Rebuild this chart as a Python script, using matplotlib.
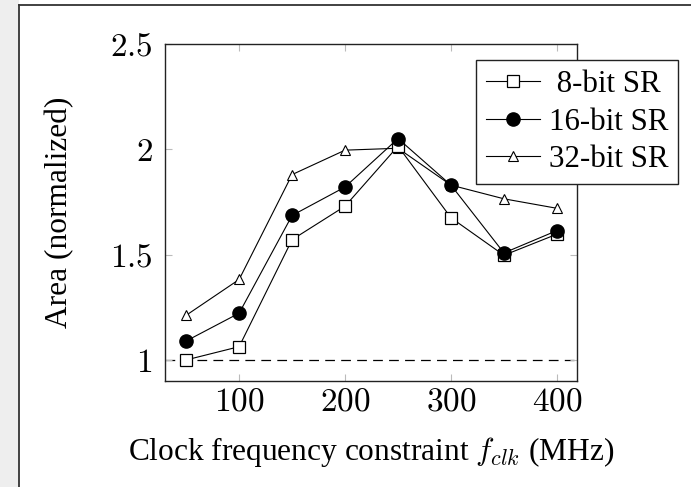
import matplotlib
matplotlib.use("Agg")
import matplotlib.pyplot as plt
from matplotlib.lines import Line2D
from matplotlib.patches import Rectangle

# ---- data ----
freq = [50, 100, 150, 200, 250, 300, 350, 400]
area_8bit = [1.000, 1.063, 1.571, 1.730, 2.015, 1.675, 1.497, 1.597]
area_16bit = [1.090, 1.222, 1.686, 1.821, 2.051, 1.830, 1.508, 1.614]
area_32bit = [1.212, 1.382, 1.880, 1.996, 2.005, 1.830, 1.765, 1.720]
series_labels = [" 8-bit SR", "16-bit SR", "32-bit SR"]
xticks = [100, 200, 300, 400]
yticks = [1, 1.5, 2, 2.5]
ytick_labels = ["1", "1.5", "2", "2.5"]
baseline = 1.0

plt.rcParams["font.family"] = ["Liberation Serif", "DejaVu Serif"]
plt.rcParams["mathtext.fontset"] = "cm"
plt.rcParams["lines.scale_dashes"] = False

FS = 22.6
TFS = 24
LFS = 22.2
W, H = 691, 487
fig = plt.figure(figsize=(W / 100, H / 100), dpi=100)

# background strip and outer frame
fig.patches.append(Rectangle((0, 0), 19 / W, 1, transform=fig.transFigure,
                             facecolor="#eeeeee", edgecolor="none", zorder=0))
fig.lines.append(Line2D([19 / W, 19 / W], [0, 1 - 5 / H], transform=fig.transFigure,
                        color="#333333", lw=1.3))
fig.lines.append(Line2D([19 / W, 1], [1 - 5 / H, 1 - 5 / H], transform=fig.transFigure,
                        color="#333333", lw=1.3))

ax = fig.add_axes([165 / W, 1 - 381 / H, (577 - 165) / W, (381 - 44) / H])
ax.set_xlim(30, 419)
ax.set_ylim(0.9, 2.5)

ax.axhline(baseline, color="black", lw=0.9, linestyle=(0, (7, 4.5)), zorder=1)

lw = 0.8
ax.plot(freq, area_8bit, color="black", lw=lw, marker="s", ms=9,
        mfc="white", mec="black", mew=0.9, label=series_labels[0], zorder=3)
ax.plot(freq, area_16bit, color="black", lw=lw, marker="o", ms=9.5,
        mfc="black", mec="black", label=series_labels[1], zorder=4)
ax.plot(freq, area_32bit, color="black", lw=lw, marker="^", ms=7.5,
        mfc="white", mec="black", mew=0.8, label=series_labels[2], zorder=2)

ax.set_xticks(xticks)
ax.set_xticklabels([f"${t}$" for t in xticks], fontsize=TFS)
ax.set_yticks(yticks)
ax.set_yticklabels([f"${t}$" for t in ytick_labels], fontsize=TFS)
ax.tick_params(direction="in", length=5, width=0.8, color="#bbbbbb",
               top=True, right=True, labelcolor="black")
ax.tick_params(axis="x", pad=4)
ax.tick_params(axis="y", pad=9)
for s in ax.spines.values():
    s.set_linewidth(1.0)
    s.set_color("#222222")

ax.set_xlabel(r"Clock frequency constraint $f_{clk}$ (MHz)", fontsize=FS, labelpad=13)
ax.set_ylabel("Area (normalized)", fontsize=FS, labelpad=25.5)

leg = ax.legend(loc="upper left", bbox_to_anchor=(476 / W, 1 - 60 / H),
                bbox_transform=fig.transFigure, fontsize=LFS, frameon=True,
                fancybox=False, edgecolor="#222222", framealpha=1,
                handlelength=1.75, handletextpad=0.3, borderpad=0.32,
                labelspacing=0.28, borderaxespad=0)
leg.get_frame().set_linewidth(1.0)

fig.savefig("out.png", dpi=100)
